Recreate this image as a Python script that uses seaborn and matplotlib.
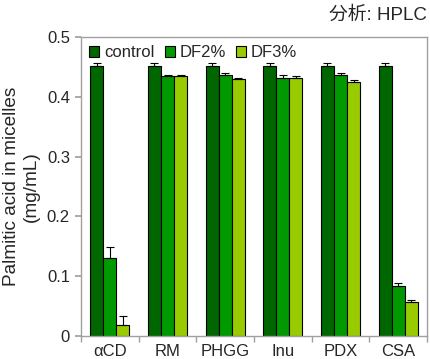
import numpy as np
import pandas as pd
import matplotlib
matplotlib.use('Agg')
import matplotlib.pyplot as plt
import seaborn as sns

categories = ['αCD', 'RM', 'PHGG', 'Inu', 'PDX', 'CSA']
groups = ['control', 'DF2%', 'DF3%']
control = [0.452, 0.452, 0.452, 0.452, 0.452, 0.452]
df2 = [0.130, 0.434, 0.437, 0.431, 0.437, 0.083]
df3 = [0.018, 0.435, 0.429, 0.432, 0.425, 0.057]
control_err = [0.004, 0.004, 0.004, 0.004, 0.004, 0.004]
df2_err = [0.018, 0.003, 0.003, 0.006, 0.003, 0.006]
df3_err = [0.015, 0.001, 0.003, 0.003, 0.003, 0.003]
colors = ['#006600', '#009900', '#99cc00']

sns.set_theme(style='white')
plt.rcParams['font.family'] = ['Liberation Sans', 'Noto Sans CJK JP', 'DejaVu Sans']

df = pd.DataFrame({
    'cat': categories * 3,
    'group': [g for g in groups for _ in categories],
    'value': control + df2 + df3,
    'err': control_err + df2_err + df3_err,
})

fig = plt.figure(figsize=(4.3, 3.59), dpi=100)
ax = fig.add_axes([81 / 430, 23 / 359, 346 / 430, 299 / 359])

sns.barplot(data=df, x='cat', y='value', hue='group', palette=colors,
            width=0.68, edgecolor='black', linewidth=0.8, errorbar=None,
            saturation=1, ax=ax)

# one-sided error bars on top of each bar
for i, g in enumerate(groups):
    sub = df[df.group == g]
    cont = ax.containers[i]
    xs = [b.get_x() + b.get_width() / 2 for b in cont]
    ax.errorbar(xs, sub.value, yerr=[np.zeros(len(sub)), sub.err], fmt='none',
                ecolor='black', elinewidth=0.8, capsize=3, capthick=0.8)

ax.set_ylim(0, 0.5)
ax.set_xlim(-0.5, 5.5)
ax.set_yticks([0, 0.1, 0.2, 0.3, 0.4, 0.5])
ax.set_yticklabels(['0', '0.1', '0.2', '0.3', '0.4', '0.5'])
ax.set_xticks(np.arange(-0.5, 6, 1), minor=True)
ax.tick_params(axis='x', which='major', length=0, labelsize=12, pad=6)
ax.tick_params(axis='x', which='minor', length=4, color='#a0a0a0', direction='out')
ax.tick_params(axis='y', length=4, color='#a0a0a0', direction='out', labelsize=12, pad=4)
ax.tick_params(bottom=True, left=True, which='both')
for s in ax.spines.values():
    s.set_color('#a0a0a0')
    s.set_linewidth(1)
ax.set_xlabel('')
ax.set_ylabel('Palmitic acid in micelles\n(mg/mL)', fontsize=13.7, labelpad=5)

ax.legend(loc='upper left', ncol=3, frameon=False, fontsize=12,
          handlelength=0.6, handleheight=0.6, handletextpad=0.3,
          columnspacing=0.6, borderaxespad=0.3, borderpad=0.2)

fig.text(427 / 430, 1 - 15 / 359, '分析: HPLC', ha='right', va='center', fontsize=13.5)

fig.savefig('out.png', dpi=100)
